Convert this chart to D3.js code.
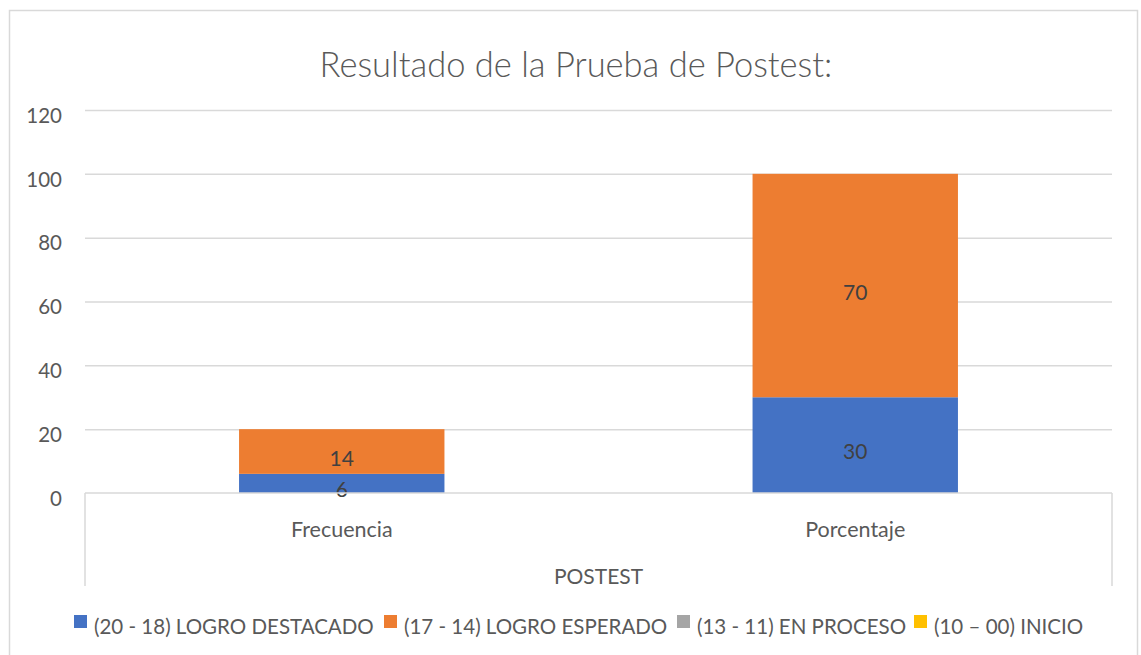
<!DOCTYPE html>
<html><head><meta charset="utf-8">
<script src="https://cdn.jsdelivr.net/npm/d3@7"></script>
<style>body{margin:0;background:#fff}svg{display:block}</style>
</head><body>
<script>
const categories = ["Frecuencia", "Porcentaje"];
const groupLabel = "POSTEST";
const seriesNames = ["(20 - 18) LOGRO DESTACADO", "(17 - 14) LOGRO ESPERADO", "(13 - 11) EN PROCESO", "(10 – 00) INICIO"];
const seriesColors = ["#4472C4", "#ED7D31", "#A5A5A5", "#FFC000"];
const destacado = [6, 30];
const esperado = [14, 70];
const proceso = [0, 0];
const inicio = [0, 0];
const yTicks = [0, 20, 40, 60, 80, 100, 120];
const title = "Resultado de la Prueba de Postest:";

(function () {
const W = 1141, H = 655;
const font = "Lato, 'Open Sans', sans-serif";
const txt = "#595959";
const svg = d3.select("body").append("svg").attr("width", W).attr("height", H);
svg.append("rect").attr("width", W).attr("height", H).attr("fill", "#fff");
svg.append("rect").attr("x", 9.5).attr("y", 10.5).attr("width", 1128).attr("height", 700)
  .attr("fill", "none").attr("stroke", "#D9D9D9").attr("stroke-width", 1.5);

const mL = 85, mR = 1112, mT = 110, mB = 493;
const y = d3.scaleLinear().domain([0, 120]).range([mB, mT]);
const x = d3.scaleBand().domain(categories).range([mL, mR]).paddingInner(0.6).paddingOuter(0.3);

svg.append("text").attr("x", 576).attr("y", 77).attr("text-anchor", "middle")
  .attr("font-family", font).attr("font-weight", 300).attr("font-size", 34.5).attr("fill", txt).text(title);

const yAxis = d3.axisLeft(y).tickValues(yTicks).tickSize(-(mR - mL)).tickFormat(d3.format("d"));
const gy = svg.append("g").attr("transform", `translate(${mL},0)`).call(yAxis);
gy.select(".domain").remove();
gy.selectAll(".tick line").attr("stroke", "#D9D9D9").attr("stroke-width", 1.5)
  .filter(d => d === 0).remove();
gy.selectAll(".tick text").attr("x", -23).attr("y", 0).attr("dy", "0.6em")
  .attr("font-family", font).attr("font-size", 20.5).attr("fill", txt);

const rows = categories.map((c, i) => ({cat: c, s0: destacado[i], s1: esperado[i], s2: proceso[i], s3: inicio[i]}));
const stack = d3.stack().keys(["s0", "s1", "s2", "s3"])(rows);
const layers = svg.append("g").selectAll("g").data(stack).join("g").attr("fill", (d, i) => seriesColors[i]);
layers.selectAll("rect").data(d => d).join("rect")
  .attr("x", d => x(d.data.cat)).attr("width", x.bandwidth())
  .attr("y", d => y(d[1])).attr("height", d => y(d[0]) - y(d[1]));
layers.selectAll("text").data(d => d.filter(v => v[1] - v[0] > 0)).join("text")
  .attr("x", d => x(d.data.cat) + x.bandwidth() / 2)
  .attr("y", d => y((d[0] + d[1]) / 2) + 14)
  .attr("text-anchor", "middle").attr("font-family", font).attr("font-size", 21).attr("fill", "#404040")
  .text(d => d[1] - d[0]);

const ax = svg.append("g").attr("stroke", "#D9D9D9").attr("stroke-width", 1.5);
ax.append("line").attr("x1", mL).attr("x2", mR).attr("y1", mB).attr("y2", mB);
ax.append("line").attr("x1", mL).attr("x2", mL).attr("y1", mB).attr("y2", 586);
ax.append("line").attr("x1", mR).attr("x2", mR).attr("y1", mB).attr("y2", 586);
const gx = svg.append("g").attr("transform", `translate(0,${mB})`)
  .call(d3.axisBottom(x).tickSize(0).tickPadding(0));
gx.select(".domain").remove();
gx.selectAll(".tick text").attr("dy", 0).attr("y", 44).attr("font-family", font).attr("font-size", 21.5).attr("fill", txt);
svg.append("text").attr("x", (mL + mR) / 2).attr("y", 584).attr("text-anchor", "middle")
  .attr("font-family", font).attr("font-size", 21).attr("fill", txt).text(groupLabel);

const legendX = [74, 384, 677, 914];
const lg = svg.append("g").selectAll("g").data(seriesNames).join("g")
  .attr("transform", (d, i) => `translate(${legendX[i]},615)`);
lg.append("rect").attr("width", 13).attr("height", 13).attr("fill", (d, i) => seriesColors[i]);
lg.append("text").attr("x", 20).attr("y", 19).attr("font-family", font).attr("font-size", 20.5).attr("fill", txt).text(d => d);
})();
</script>
</body></html>
